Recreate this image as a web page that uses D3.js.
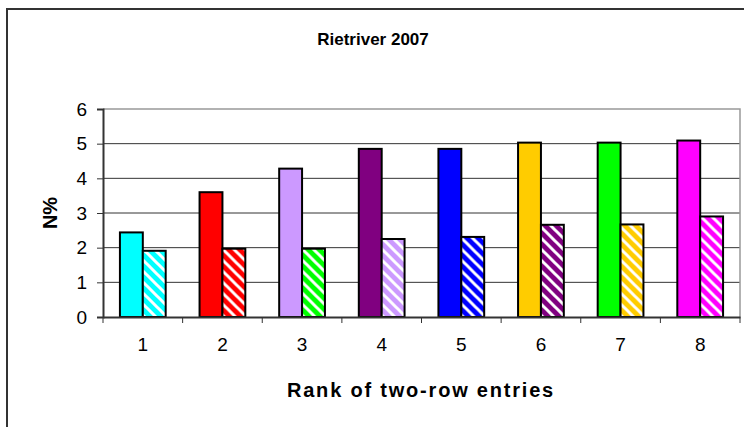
<!DOCTYPE html>
<html>
<head>
<meta charset="utf-8">
<script src="https://cdn.jsdelivr.net/npm/d3@7"></script>
<style>
  html, body { margin: 0; padding: 0; background: #fff; }
  svg { display: block; font-family: "Liberation Sans", Arial, sans-serif; }
</style>
</head>
<body>
<svg id="chart" width="744" height="427"></svg>
<script>
// Rank categories
const categories = ["1", "2", "3", "4", "5", "6", "7", "8"];
// Solid bars (first entry of each pair), N%
const solidValues = [2.44, 3.6, 4.28, 4.85, 4.85, 5.03, 5.03, 5.09];
// Hatched bars (second entry of each pair), N%
const hatchedValues = [1.91, 1.97, 1.97, 2.25, 2.31, 2.66, 2.67, 2.9];
// Fill colours per category
const solidColors = ["#00FFFF", "#FF0000", "#CC99FF", "#800080", "#0000FF", "#FFCC00", "#00FF00", "#FF00FF"];
const hatchedColors = ["#00FFFF", "#FF0000", "#00FF00", "#CC99FF", "#0000FF", "#800080", "#FFCC00", "#FF00FF"];
const yTicks = [0, 1, 2, 3, 4, 5, 6];

const svg = d3.select("#chart");

// Outer chart frame
svg.append("rect")
  .attr("x", 7).attr("y", 9)
  .attr("width", 800).attr("height", 500)
  .attr("fill", "none").attr("stroke", "#333").attr("stroke-width", 2);

const plot = { left: 103, right: 740, top: 109, bottom: 317 };

const x = d3.scaleBand().domain(categories).range([plot.left, plot.right]).padding(0);
const inner = d3.scaleBand().domain(["solid", "hatched"]).range([0, x.bandwidth()])
  .paddingInner(0).paddingOuter(0.74);
const y = d3.scaleLinear().domain([0, 6]).range([plot.bottom, plot.top]);

// Diagonal-stripe patterns
const defs = svg.append("defs");
const P = 11;
hatchedColors.forEach((c, i) => {
  const pat = defs.append("pattern")
    .attr("id", "hatch" + i)
    .attr("patternUnits", "userSpaceOnUse")
    .attr("width", P).attr("height", P);
  pat.append("rect").attr("width", P).attr("height", P).attr("fill", c);
  pat.append("path")
    .attr("d", `M${-P/2},${P/2} L${P/2},${P*1.5} M0,0 L${P},${P} M${P/2},${-P/2} L${P*1.5},${P/2}`)
    .attr("stroke", "#fff").attr("stroke-width", 3);
});

// Gridlines
svg.append("g").selectAll("line")
  .data(yTicks.filter(t => t > 0 && t < 6))
  .join("line")
  .attr("x1", plot.left).attr("x2", plot.right)
  .attr("y1", d => y(d)).attr("y2", d => y(d))
  .attr("stroke", "#333").attr("stroke-width", 1);

// Plot-area border (top and right)
svg.append("path")
  .attr("d", `M${plot.left},${y(6)} H${plot.right} V${plot.bottom}`)
  .attr("fill", "none").attr("stroke", "#999").attr("stroke-width", 1.5);

// Bars
const groups = svg.append("g").selectAll("g")
  .data(categories)
  .join("g")
  .attr("transform", d => `translate(${x(d)},0)`);

groups.append("rect")
  .attr("x", inner("solid"))
  .attr("width", inner.bandwidth())
  .attr("y", (d, i) => y(solidValues[i]))
  .attr("height", (d, i) => y(0) - y(solidValues[i]))
  .attr("fill", (d, i) => solidColors[i])
  .attr("stroke", "#000").attr("stroke-width", 2);

groups.append("rect")
  .attr("x", inner("hatched"))
  .attr("width", inner.bandwidth())
  .attr("y", (d, i) => y(hatchedValues[i]))
  .attr("height", (d, i) => y(0) - y(hatchedValues[i]))
  .attr("fill", (d, i) => `url(#hatch${i})`)
  .attr("stroke", "#000").attr("stroke-width", 2);

// Y axis
const yAxis = svg.append("g")
  .attr("transform", `translate(${plot.left},0)`)
  .call(d3.axisLeft(y).tickValues(yTicks).tickFormat(d3.format("d")).tickSize(6).tickPadding(10));
yAxis.select(".domain").attr("stroke", "#333").attr("stroke-width", 2);
yAxis.selectAll(".tick line").attr("stroke", "#333").attr("stroke-width", 1);
yAxis.selectAll("text").attr("font-size", 19).attr("fill", "#000")
  .attr("font-family", "Liberation Sans, Arial, sans-serif");

// X axis with ticks on category boundaries
const xAxis = svg.append("g")
  .attr("transform", `translate(0,${plot.bottom})`)
  .call(d3.axisBottom(x).tickSize(0).tickPadding(21));
xAxis.select(".domain").attr("stroke", "#333").attr("stroke-width", 2);
xAxis.selectAll("text").attr("font-size", 19).attr("fill", "#000")
  .attr("font-family", "Liberation Sans, Arial, sans-serif");
xAxis.selectAll(".boundary")
  .data(categories.map(c => x(c) + x.bandwidth()).concat([x(categories[0])]))
  .join("line")
  .attr("class", "boundary")
  .attr("x1", d => d).attr("x2", d => d)
  .attr("y1", 0).attr("y2", 6)
  .attr("stroke", "#333").attr("stroke-width", 1);

// Titles
svg.append("text")
  .attr("x", 373).attr("y", 45)
  .attr("text-anchor", "middle")
  .attr("font-size", 17).attr("font-weight", "bold")
  .text("Rietriver 2007");

svg.append("text")
  .attr("x", 421).attr("y", 397)
  .attr("text-anchor", "middle")
  .attr("font-size", 20).attr("font-weight", "bold")
  .attr("letter-spacing", 1.8)
  .text("Rank of two-row entries");

svg.append("text")
  .attr("transform", `translate(57,${(plot.top + plot.bottom) / 2}) rotate(-90)`)
  .attr("text-anchor", "middle")
  .attr("font-size", 20).attr("font-weight", "bold")
  .text("N%");
</script>
</body>
</html>
